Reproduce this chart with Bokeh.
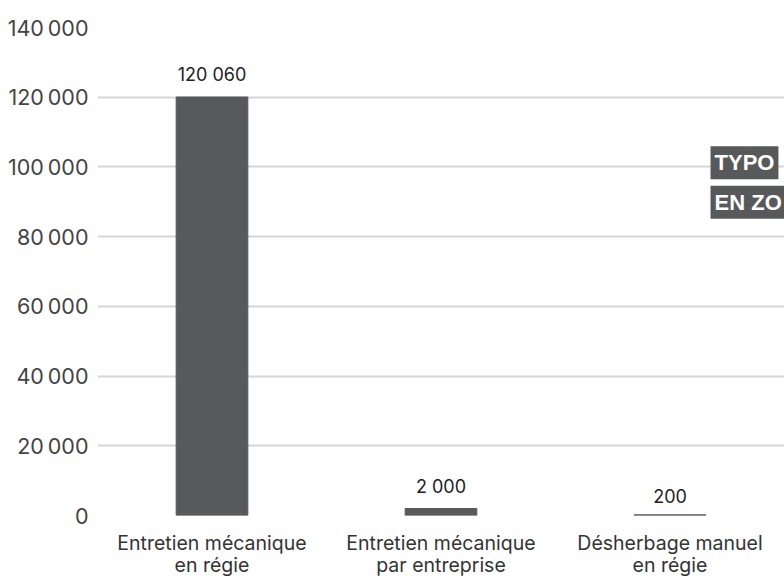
from bokeh.plotting import figure
from bokeh.models import ColumnDataSource, Range1d, FixedTicker, Label
from bokeh.embed import file_html
from bokeh.resources import INLINE
from bokeh.core.properties import value

# Data
categories = ["Entretien mécanique\nen régie", "Entretien mécanique\npar entreprise", "Désherbage manuel\nen régie"]
values = [120060, 2000, 200]
value_labels = ["120 060", "2 000", "200"]
y_ticks = [0, 20000, 40000, 60000, 80000, 100000, 120000, 140000]
y_tick_labels = ["0", "20\u202f000", "40\u202f000", "60\u202f000", "80\u202f000", "100\u202f000", "120\u202f000", "140\u202f000"]
side_titles = ["TYPO", "EN ZO"]

FONT = "Inter"
xs = [i + 0.5 for i in range(len(categories))]

p = figure(width=784, height=580, output_backend="svg", toolbar_location=None,
           x_range=Range1d(0, 3.0), y_range=Range1d(0, 140000),
           min_border_left=97, min_border_right=0, min_border_top=27, min_border_bottom=64)
p.outline_line_color = None
p.background_fill_color = "white"
p.border_fill_color = "white"

src = ColumnDataSource(dict(x=xs, top=values, lab=value_labels))
p.vbar(x="x", top="top", width=0.313, bottom=0, source=src, color="#58595b")
p.text(x="x", y="top", text="lab", source=src, text_align="center", text_baseline="bottom",
       y_offset=-12, text_font=value(FONT), text_font_size="18px", text_color="#222222")

p.xgrid.visible = False
p.ygrid.grid_line_color = "#d6d6d6"
p.ygrid.grid_line_width = 2
p.ygrid.level = "underlay"

p.yaxis.ticker = FixedTicker(ticks=y_ticks)
p.yaxis.major_label_overrides = {t: l for t, l in zip(y_ticks, y_tick_labels)}
p.xaxis.ticker = FixedTicker(ticks=xs)
p.xaxis.major_label_overrides = {x: c for x, c in zip(xs, categories)}
for ax in (p.xaxis, p.yaxis):
    ax.axis_line_color = None
    ax.major_tick_line_color = None
    ax.minor_tick_line_color = None
    ax.major_tick_out = 0
    ax.major_tick_in = 0
    ax.minor_tick_out = 0
    ax.major_label_text_font = FONT
p.yaxis.major_label_text_font_size = "21.5px"
p.yaxis.major_label_text_color = "#444444"
p.yaxis.major_label_standoff = 9
p.xaxis.major_label_text_font_size = "19.5px"
p.xaxis.major_label_text_line_height = 0.95
p.xaxis.major_label_text_color = "#333333"
p.xaxis.major_label_standoff = 15

for txt, yv in zip(side_titles, [101200, 89900]):
    p.add_layout(Label(x=2.677, y=yv, text=txt, text_align="left", text_baseline="middle",
                       text_font="Liberation Sans", text_font_style="bold", text_font_size="22px",
                       text_color="white", background_fill_color="#58595b", padding=4))

open("out.html", "w").write(file_html(p, INLINE))
